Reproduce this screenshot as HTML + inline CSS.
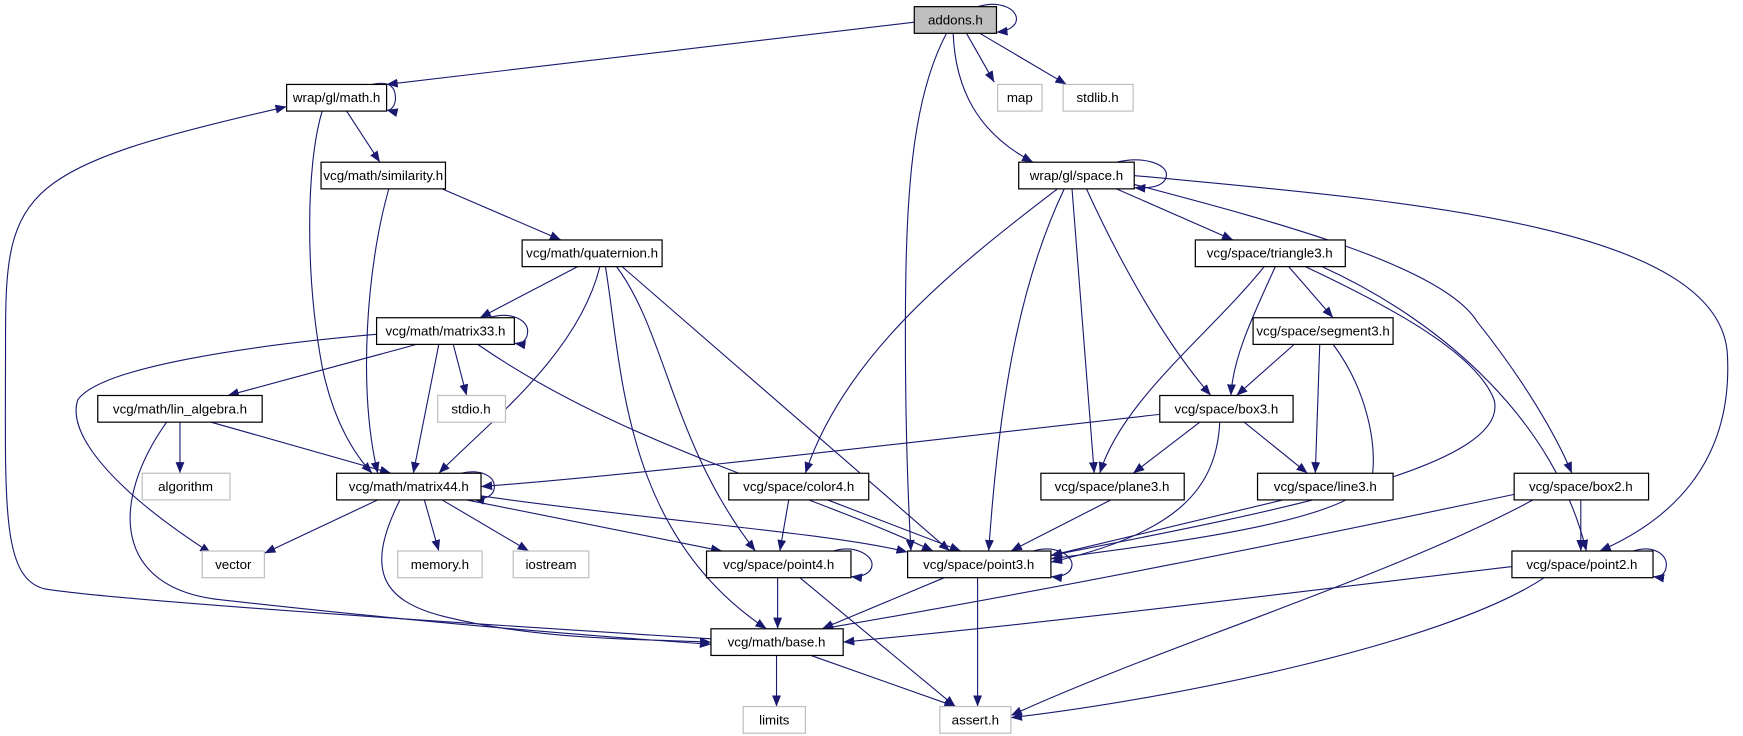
<!DOCTYPE html>
<html><head><meta charset="utf-8"><style>
html,body{margin:0;padding:0;background:#fff;}
svg{display:block}
text{font-family:"Liberation Sans",sans-serif;font-size:12px;text-anchor:middle;fill:#000}
.n{fill:#fff;stroke:#000;stroke-width:1.1}
.g{fill:#fff;stroke:#bfbfbf;stroke-width:1.1}
.e{fill:none;stroke:#191970;stroke-width:1}
</style></head><body>
<svg width="1743" height="736" viewBox="0 0 1569 662.5" preserveAspectRatio="none" xmlns="http://www.w3.org/2000/svg">
<defs><marker id="a" viewBox="0 0 10 8" refX="10" refY="4" markerWidth="10" markerHeight="8" markerUnits="userSpaceOnUse" orient="auto"><path d="M0,0L10,4L0,8z" fill="#191970"/></marker></defs>
<g class="e" marker-end="url(#a)">
<path d="M880,6 C900,0 915,8 915,17 C915,24 907,28 897,29"/>
<path d="M823,20 L348,76"/>
<path d="M870,30 L895,74"/>
<path d="M882,30 L960,76"/>
<path d="M858,30 C860,80 880,120 930,146"/>
<path d="M852,30 C820,90 815,180 815,300 C815,400 818,460 820,496"/>
<path d="M335,76 C352,72 356,80 356,88 C356,95 352,100 348,99"/>
<path d="M312,100 L342,146"/>
<path d="M290,100 C275,150 275,250 290,330 C300,380 320,410 335,426"/>
<path d="M398,170 L505,216"/>
<path d="M350,170 C330,240 322,350 340,426"/>
<path d="M1005,146 C1030,140 1050,148 1050,157 C1050,166 1040,170 1021,169"/>
<path d="M952,170 C860,240 760,320 725,426"/>
<path d="M958,170 C920,250 900,350 890,496"/>
<path d="M965,170 L985,426"/>
<path d="M978,170 C1010,240 1050,310 1090,356"/>
<path d="M1005,170 L1110,216"/>
<path d="M1021,166 C1150,200 1300,240 1330,290 C1370,340 1400,390 1415,426"/>
<path d="M1021,158 C1250,180 1550,200 1555,320 C1560,420 1500,470 1440,496"/>
<path d="M520,240 L432,286"/>
<path d="M540,240 C520,320 440,380 395,426"/>
<path d="M545,240 C560,330 560,480 690,566"/>
<path d="M555,240 C600,300 605,400 680,496"/>
<path d="M560,240 L855,496"/>
<path d="M1160,240 L1200,286"/>
<path d="M1148,240 C1130,280 1110,320 1108,356"/>
<path d="M1138,240 C1090,300 1010,360 990,426"/>
<path d="M1175,240 C1260,280 1330,320 1345,360 C1360,420 1150,460 946,500"/>
<path d="M1190,240 C1300,290 1400,380 1428,496"/>
<path d="M440,286 C460,280 475,288 475,298 C475,306 470,310 463,309"/>
<path d="M350,300 C230,310 90,330 70,360 C60,390 100,440 190,498"/>
<path d="M375,310 L205,356"/>
<path d="M408,310 L420,356"/>
<path d="M395,310 L372,426"/>
<path d="M430,310 C560,400 720,440 840,496"/>
<path d="M1165,310 L1113,356"/>
<path d="M1188,310 L1184,426"/>
<path d="M1200,310 C1230,350 1240,400 1235,430 C1220,470 1040,490 946,503"/>
<path d="M162,380 L162,426"/>
<path d="M190,380 L352,426"/>
<path d="M150,380 C100,450 100,530 200,540 C380,560 500,570 640,580"/>
<path d="M1044,373 C800,400 600,425 433,438"/>
<path d="M1080,380 L1020,426"/>
<path d="M1120,380 L1177,426"/>
<path d="M1098,380 C1095,440 1060,480 946,506"/>
<path d="M415,426 C432,422 445,428 445,438 C445,448 433,450 426,449"/>
<path d="M340,450 L238,498"/>
<path d="M382,450 L395,496"/>
<path d="M398,450 L476,496"/>
<path d="M420,450 L650,496"/>
<path d="M430,446 C600,470 750,480 817,497"/>
<path d="M360,450 C330,510 340,540 400,555 C480,575 560,575 640,578"/>
<path d="M710,450 L702,496"/>
<path d="M745,450 L865,496"/>
<path d="M1000,450 L910,496"/>
<path d="M1155,450 L946,500"/>
<path d="M1423,450 L1423,496"/>
<path d="M1363,445 C1150,490 950,530 740,566"/>
<path d="M1380,450 C1250,520 1050,580 910,644"/>
<path d="M750,496 C770,490 785,500 785,508 C785,516 775,520 766,519"/>
<path d="M700,520 L700,566"/>
<path d="M720,520 L860,636"/>
<path d="M930,496 C950,490 965,500 965,508 C965,516 955,520 946,519"/>
<path d="M850,520 L740,566"/>
<path d="M880,520 L880,636"/>
<path d="M1470,496 C1490,490 1500,500 1500,508 C1500,516 1495,520 1488,519"/>
<path d="M1361,510 C1150,535 950,560 759,578"/>
<path d="M1390,520 C1300,580 1050,630 910,646"/>
<path d="M699,590 L699,636"/>
<path d="M730,590 L860,636"/>
<path d="M640,575 C400,560 100,540 40,530 C0,520 5,450 5,300 C5,170 20,150 258,96"/>
</g>
<g>
<rect x="823" y="6" width="74" height="24" fill="#bfbfbf" stroke="#000" stroke-width="1.1"/><text x="860" y="22">addons.h</text>
<rect class="n" x="258" y="76" width="90" height="24"/><text x="303" y="92">wrap/gl/math.h</text>
<rect class="g" x="898" y="76" width="40" height="24"/><text x="918" y="92">map</text>
<rect class="g" x="957" y="76" width="63" height="24"/><text x="988" y="92">stdlib.h</text>
<rect class="n" x="289" y="146" width="112" height="24"/><text x="345" y="162">vcg/math/similarity.h</text>
<rect class="n" x="917" y="146" width="104" height="24"/><text x="969" y="162">wrap/gl/space.h</text>
<rect class="n" x="470" y="216" width="126" height="24"/><text x="533" y="232">vcg/math/quaternion.h</text>
<rect class="n" x="1076" y="216" width="135" height="24"/><text x="1143" y="232">vcg/space/triangle3.h</text>
<rect class="n" x="339" y="286" width="124" height="24"/><text x="401" y="302">vcg/math/matrix33.h</text>
<rect class="n" x="1128" y="286" width="126" height="24"/><text x="1191" y="302">vcg/space/segment3.h</text>
<rect class="g" x="394" y="356" width="61" height="24"/><text x="424" y="372">stdio.h</text>
<rect class="n" x="88" y="356" width="148" height="24"/><text x="162" y="372">vcg/math/lin_algebra.h</text>
<rect class="n" x="1044" y="356" width="120" height="24"/><text x="1104" y="372">vcg/space/box3.h</text>
<rect class="g" x="128" y="426" width="79" height="24"/><text x="167" y="442">algorithm</text>
<rect class="n" x="303" y="426" width="130" height="24"/><text x="368" y="442">vcg/math/matrix44.h</text>
<rect class="n" x="656" y="426" width="126" height="24"/><text x="719" y="442">vcg/space/color4.h</text>
<rect class="n" x="937" y="426" width="129" height="24"/><text x="1001" y="442">vcg/space/plane3.h</text>
<rect class="n" x="1132" y="426" width="122" height="24"/><text x="1193" y="442">vcg/space/line3.h</text>
<rect class="n" x="1363" y="426" width="121" height="24"/><text x="1423" y="442">vcg/space/box2.h</text>
<rect class="g" x="182" y="496" width="56" height="24"/><text x="210" y="512">vector</text>
<rect class="g" x="358" y="496" width="76" height="24"/><text x="396" y="512">memory.h</text>
<rect class="g" x="462" y="496" width="68" height="24"/><text x="496" y="512">iostream</text>
<rect class="n" x="636" y="496" width="130" height="24"/><text x="701" y="512">vcg/space/point4.h</text>
<rect class="n" x="817" y="496" width="129" height="24"/><text x="881" y="512">vcg/space/point3.h</text>
<rect class="n" x="1361" y="496" width="127" height="24"/><text x="1424" y="512">vcg/space/point2.h</text>
<rect class="n" x="640" y="566" width="119" height="24"/><text x="699" y="582">vcg/math/base.h</text>
<rect class="g" x="669" y="636" width="56" height="24"/><text x="697" y="652">limits</text>
<rect class="g" x="846" y="636" width="64" height="24"/><text x="878" y="652">assert.h</text>
</g>
</svg>
</body></html>
